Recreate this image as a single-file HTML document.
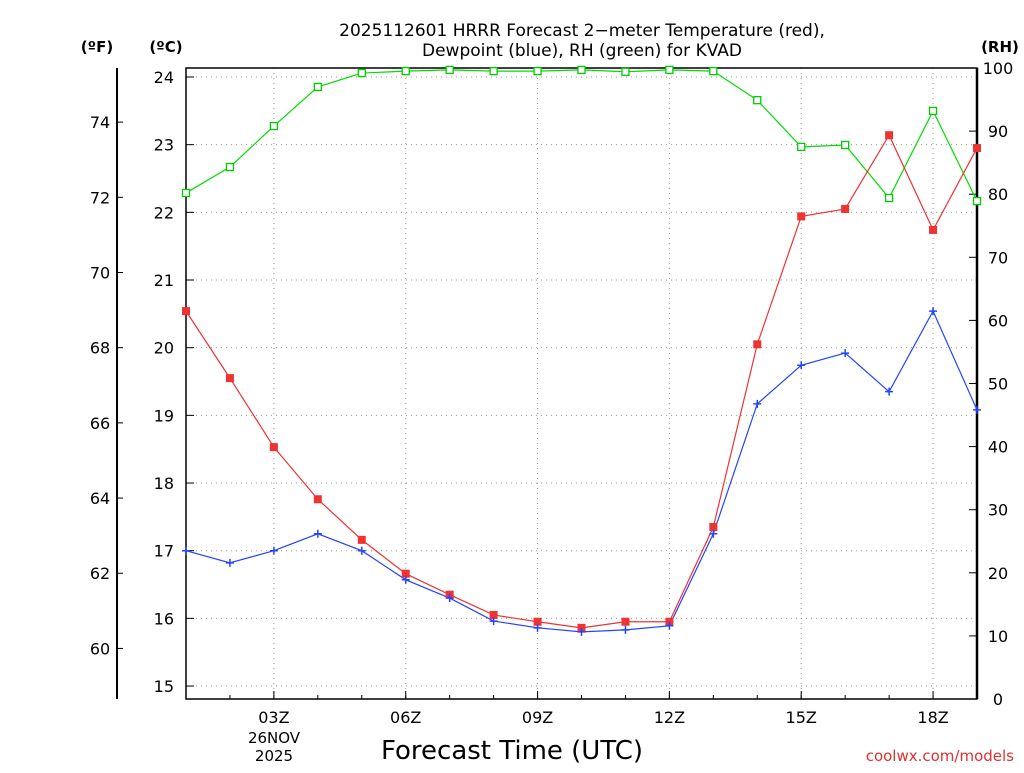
<!DOCTYPE html>
<html><head><meta charset="utf-8"><style>
body{margin:0;background:#fff;}
svg text{font-family:"DejaVu Sans","Liberation Sans",sans-serif;fill:#000;}
</style></head><body>
<svg id="chart" width="1024" height="768" viewBox="0 0 1024 768" xmlns="http://www.w3.org/2000/svg">
<g id="grid"></g>
<g id="axes"></g>
<g id="series"></g>
<text x="582" y="36" text-anchor="middle" font-size="17">2025112601 HRRR Forecast 2−meter Temperature (red),</text>
<text x="582" y="56" text-anchor="middle" font-size="17">Dewpoint (blue), RH (green) for KVAD</text>
<text x="97" y="52" text-anchor="middle" font-size="15" font-weight="bold">(ºF)</text>
<text x="166" y="52" text-anchor="middle" font-size="15" font-weight="bold">(ºC)</text>
<text x="1000" y="52" text-anchor="middle" font-size="15" font-weight="bold">(RH)</text>
<text x="512" y="759" text-anchor="middle" font-size="26">Forecast Time (UTC)</text>
<text x="274" y="743" text-anchor="middle" font-size="15">26NOV</text>
<text x="274" y="761" text-anchor="middle" font-size="15">2025</text>
<text x="1014" y="761" text-anchor="end" font-size="15" style="fill:#e03030">coolwx.com/models</text>
</svg>
<script>
const hours=[1,2,3,4,5,6,7,8,9,10,11,12,13,14,15,16,17,18,19];
const tempC=[20.54,19.55,18.53,17.76,17.16,16.66,16.35,16.05,15.95,15.86,15.95,15.95,17.35,20.05,21.94,22.05,23.14,21.74,22.95];
const dewC=[17.0,16.82,17.0,17.25,17.0,16.57,16.3,15.96,15.86,15.8,15.83,15.89,17.25,19.17,19.74,19.92,19.35,20.54,19.08];
const rh=[80.2,84.3,90.8,97.0,99.2,99.5,99.7,99.5,99.5,99.7,99.4,99.7,99.5,94.9,87.5,87.8,79.4,93.2,78.9];
const cTicks=[15,16,17,18,19,20,21,22,23,24];
const fTicks=[60,62,64,66,68,70,72,74];
const rhTicks=[0,10,20,30,40,50,60,70,80,90,100];
const xTicks=[3,6,9,12,15,18];
const L=186,R=977,T=68,B=699;
const xs=h=>L+(h-1)*(R-L)/18;
const yC=c=>77+(24-c)*67.67;
const yF=f=>yC((f-32)*5/9);
const yR=r=>B-r*(B-T)/100;
const NS="http://www.w3.org/2000/svg";
function mk(p,t,a){const e=document.createElementNS(NS,t);for(const k in a)e.setAttribute(k,a[k]);p.appendChild(e);return e;}
const grid=document.getElementById('grid'),axes=document.getElementById('axes'),ser=document.getElementById('series');
cTicks.forEach(c=>{const y=yC(c);
 const g=mk(grid,'line',{x1:L,x2:R,y1:y,y2:y,stroke:'#999','stroke-dasharray':'1,4'});
 
 mk(axes,'line',{x1:L,x2:L+8,y1:y,y2:y,stroke:'#000'});
 const t=mk(axes,'text',{x:174,y:y+6,'text-anchor':'end','font-size':16});t.textContent=c;
 });
xTicks.forEach(h=>{const x=xs(h);
 const g=mk(grid,'line',{x1:x,x2:x,y1:T,y2:B,stroke:'#999','stroke-dasharray':'1,4'});
 
 mk(axes,'line',{x1:x,x2:x,y1:B,y2:B-8,stroke:'#000'});
 const t=mk(axes,'text',{x:x,y:723,'text-anchor':'middle','font-size':16});t.textContent=String(h).padStart(2,'0')+'Z';
 });
hours.forEach(h=>{const x=xs(h);mk(axes,'line',{x1:x,x2:x,y1:B,y2:B-4,stroke:'#000'});});
fTicks.forEach(f=>{const y=yF(f);
 mk(axes,'line',{x1:117,x2:123,y1:y,y2:y,stroke:'#000'});
 const t=mk(axes,'text',{x:100,y:y+6,'text-anchor':'middle','font-size':16});t.textContent=f;
 });
rhTicks.forEach(r=>{const y=yR(r);
 mk(axes,'line',{x1:R,x2:R-8,y1:y,y2:y,stroke:'#000'});
 const t=mk(axes,'text',{x:998,y:y+6,'text-anchor':'middle','font-size':16});t.textContent=r;
 });
mk(axes,'line',{x1:117,x2:117,y1:T,y2:B,stroke:'#000','stroke-width':2});
mk(axes,'rect',{x:L,y:T,width:R-L,height:B-T,fill:'none',stroke:'#000','stroke-width':1.5});
mk(axes,'line',{x1:R,x2:R,y1:T,y2:B,stroke:'#000','stroke-width':2.5});
function line(vals,fy,col,name){
 const p=mk(ser,'polyline',{points:vals.map((v,i)=>xs(hours[i])+','+fy(v)).join(' '),fill:'none',stroke:col,'stroke-width':1.2});
 }
line(rh,yR,'#00dd00','rh-line');
line(tempC,yC,'#ee3333','temperature-line');
line(dewC,yC,'#2244ff','dewpoint-line');
rh.forEach((v,i)=>{const e=mk(ser,'rect',{x:xs(hours[i])-3.5,y:yR(v)-3.5,width:7,height:7,fill:'#fff',stroke:'#00cc00','stroke-width':1.3});
 });
tempC.forEach((v,i)=>{const e=mk(ser,'rect',{x:xs(hours[i])-4,y:yC(v)-4,width:8,height:8,fill:'#ee3333'});
 });
dewC.forEach((v,i)=>{const x=xs(hours[i]),y=yC(v);
 const e=mk(ser,'path',{d:`M${x-4},${y}H${x+4}M${x},${y-4}V${y+4}`,stroke:'#2244ff','stroke-width':1.5});
 });
</script>
</body></html>
